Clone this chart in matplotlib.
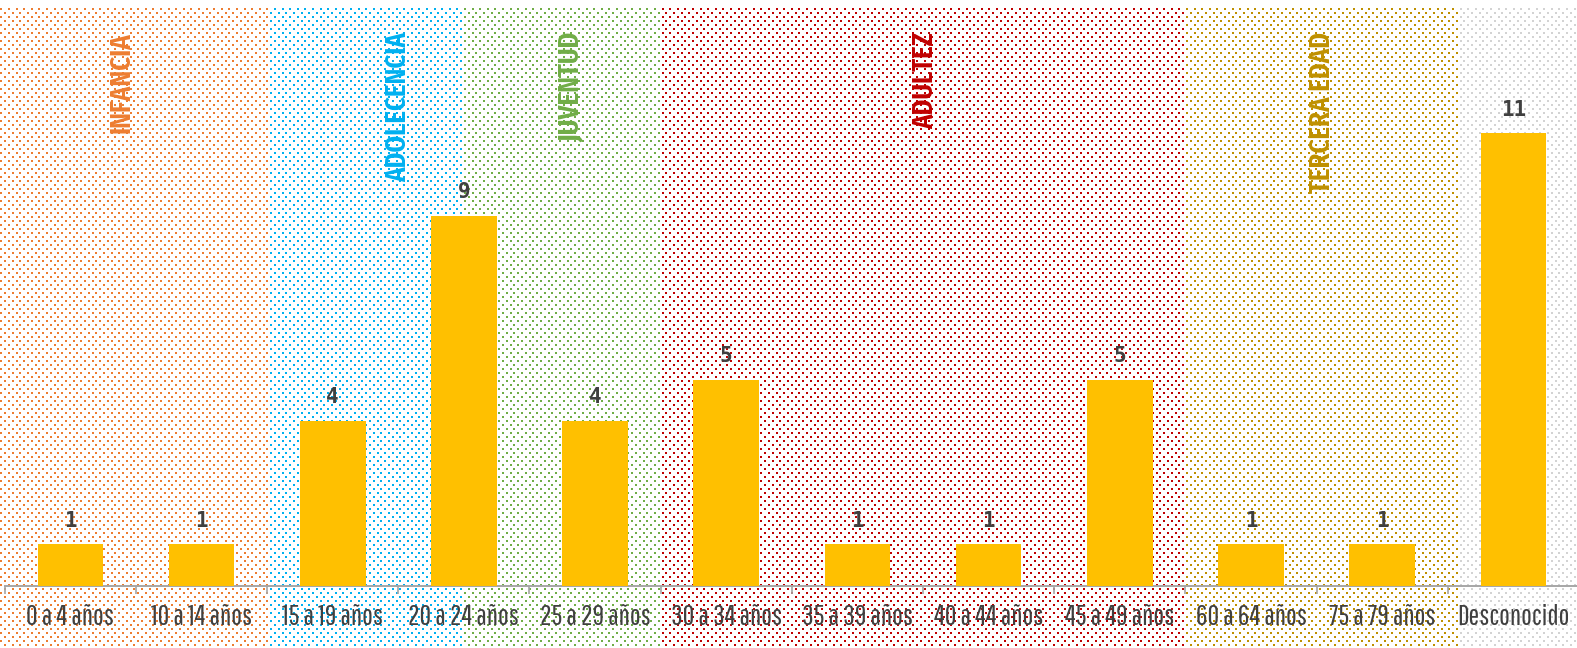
import numpy as np
import matplotlib
matplotlib.use('Agg')
import matplotlib.pyplot as plt

# datos
categorias = ['0 a 4 años', '10 a 14 años', '15 a 19 años', '20 a 24 años', '25 a 29 años',
              '30 a 34 años', '35 a 39 años', '40 a 44 años', '45 a 49 años',
              '60 a 64 años', '75 a 79 años', 'Desconocido']
valores = [1, 1, 4, 9, 4, 5, 1, 1, 5, 1, 1, 11]

# etapas de vida (limites en unidades de categoria)
etapas = ['INFANCIA', 'ADOLECENCIA', 'JUVENTUD', 'ADULTEZ', 'TERCERA EDAD', '']
etapas_colores = ['#ED7D31', '#00B0F0', '#70AD47', '#C00000', '#BF9000', '#D3D3D3']
etapas_limites = [-0.54, 1.5, 3.0, 4.5, 8.5, 10.58, 11.5]
etapas_x_texto = [0.386, 2.50, 3.81, 6.51, 9.54]

fuente_ejes = ['Saira Extra Condensed', 'Pathway Gothic One', 'Fira Sans Extra Condensed', 'DejaVu Sans']
fuente_etapas = ['Fira Sans Extra Condensed', 'DejaVu Sans']

W, H = 1577, 648
fig = plt.figure(figsize=(W / 100, H / 100), dpi=100)
fig.patch.set_facecolor('white')

ax = fig.add_axes([4.7 / W, 62.5 / H, 1574.4 / W, 575.4 / H], zorder=2)
ax.set_facecolor('none')
x = np.arange(len(categorias))
ax.bar(x, valores, width=0.5, color='#FFC000', zorder=3)
ax.set_xlim(-0.5, len(categorias) - 0.5)
ax.set_ylim(0, 14)

for xi, v in zip(x, valores):
    ax.annotate(str(v), (xi, v), xytext=(0, 10), textcoords='offset points',
                ha='center', va='bottom', fontsize=15, fontweight='bold',
                family='DejaVu Sans Mono', color='#404040')

for nombre, color, xt in zip(etapas, etapas_colores, etapas_x_texto):
    ax.text(xt, (575.4 - 22) / 575.4, nombre, transform=ax.get_xaxis_transform(),
            rotation=90, ha='center', va='top', fontsize=21, fontweight='semibold',
            color=color, family=fuente_etapas)

# ejes
for s in ['top', 'right', 'left']:
    ax.spines[s].set_visible(False)
ax.spines['bottom'].set_color('#A6A6A6')
ax.spines['bottom'].set_linewidth(1.4)
ax.set_yticks([])
ax.set_xticks(x)
ax.set_xticklabels(categorias, fontsize=20.5, color='#404040', family=fuente_ejes)
ax.set_xticks(np.arange(len(categorias) + 1) - 0.5, minor=True)
ax.tick_params(axis='x', which='major', length=0, pad=13)
ax.tick_params(axis='x', which='minor', length=5.5, width=1.2, color='#A6A6A6')

# fondo punteado por etapa
fig.canvas.draw()
bordes = ax.transData.transform(np.column_stack([etapas_limites, np.zeros(len(etapas_limites))]))[:, 0]
bordes[0] = 0
bordes[-1] = W
yy, xx = np.mgrid[0:H, 0:W]
paso = 7.6
fila_par = (yy % 8) < 2
fila_impar = ((yy + 4) % 8) < 2
puntos = (fila_par & ((xx / paso) % 1 < 0.26)) | (fila_impar & ((xx / paso + 0.5) % 1 < 0.26))
puntos &= yy >= 8
img = np.ones((H, W, 4))
for i, color in enumerate(etapas_colores):
    rgb = matplotlib.colors.to_rgb(color)
    cols = (xx >= bordes[i]) & (xx < bordes[i + 1]) & puntos
    img[cols, :3] = rgb
bg = fig.add_axes([0, 0, 1, 1], zorder=0)
bg.imshow(img, extent=(0, W, H, 0), interpolation='nearest', aspect='auto')
bg.axis('off')

fig.savefig('out.png', dpi=100)
